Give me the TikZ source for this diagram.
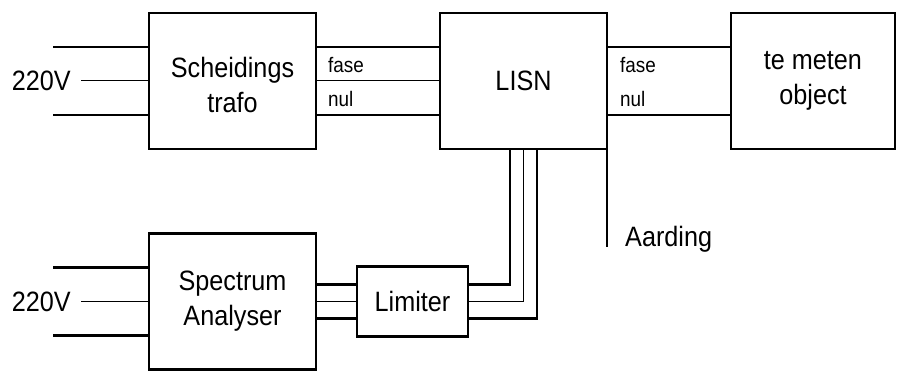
\documentclass[tikz,border=0pt]{standalone}
\usepackage{fontspec}
\setmainfont{Liberation Sans}[FakeStretch=0.9]
\usetikzlibrary{chains,positioning}

\begin{document}
\begin{tikzpicture}[x=1pt,y=-1pt,
  blok/.style={draw,line width=2.6pt,outer sep=0pt,minimum width=167pt,
    minimum height=136pt,align=center,font=\fontsize{28}{35}\selectfont},
  dik/.style={line width=2.6pt},
  dun/.style={line width=1pt},
  klein/.style={font=\fontsize{21}{24}\selectfont,inner sep=2pt},
  groot/.style={font=\fontsize{28}{33}\selectfont},
]
\useasboundingbox (0,0) rectangle (897,371);

% de bovenste rij
\begin{scope}[start chain=going right,node distance=124pt]
\node[blok,on chain] (trafo) at (232.5,81) {\rule{0pt}{29pt}Scheidings\\trafo};
\node[blok,on chain] (lisn) {LISN};
\node[blok,on chain,minimum width=164pt] (obj) {te meten\\object};
\end{scope}

% de onderste rij
\begin{scope}[start chain=going right,node distance=41pt]
\node[blok,on chain] (sa) at (232.5,301.5) {Spectrum\\Analyser};
\node[blok,on chain,minimum width=111pt,minimum height=70pt] (lim) {Limiter};
\end{scope}

% de 220V ingangen
\node[groot,anchor=east,inner xsep=10pt] (v1) at (81,81) {220V};
\node[groot,anchor=east,inner xsep=10pt] (v2) at (81,301.5) {220V};
\foreach \b/\v in {trafo/v1,sa/v2} {
  \coordinate (\b-a) at ([xshift=-96pt,yshift=34pt]\b.west);
  \coordinate (\b-b) at ([xshift=-96pt,yshift=-34pt]\b.west);
  \draw[dik] (\b-a) -- (\b-a -| \b.west);
  \draw[dik] (\b-b) -- (\b-b -| \b.west);
  \draw[dun] (\v.east) -- (\v.east -| \b.west);
}

% fase en nul
\foreach \s/\st in {34/dik,0/dun,-34/dik}
  \draw[\st] ([yshift=\s pt]trafo.east) -- ([yshift=\s pt]lisn.west);
\foreach \s in {34,-34}
  \draw[dik] ([yshift=\s pt]lisn.east) -- ([yshift=\s pt]obj.west);
\node[klein,anchor=base west] (f1) at ([xshift=10pt,yshift=8pt]trafo.east) {fase};
\node[klein,anchor=base west] (n1) at ([xshift=10pt,yshift=-26pt]trafo.east) {nul};
\node[klein,anchor=base west] (f2) at ([xshift=11pt,yshift=8pt]lisn.east) {fase};
\node[klein,anchor=base west] (n2) at ([xshift=11pt,yshift=-26pt]lisn.east) {nul};

% naar de limiter
\foreach \s/\st in {17/dik,0/dun,-17/dik}
  \draw[\st] ([yshift=\s pt]sa.east) -- ([yshift=\s pt]lim.west);
\foreach \dx/\dy/\st in {-13.5/17/dik,0/0/dun,13.5/-17/dik}
  \draw[\st] ([xshift=\dx pt]lisn.south) |- ([yshift=\dy pt]lim.east);

% aarding
\coordinate (gnd) at ([yshift=-98pt]lisn.south east);
\draw[dik] (lisn.south east) -- (gnd);
\node[groot,anchor=base west,inner sep=2pt] (aard) at ([xshift=16pt]gnd) {Aarding};
\end{tikzpicture}
\end{document}
